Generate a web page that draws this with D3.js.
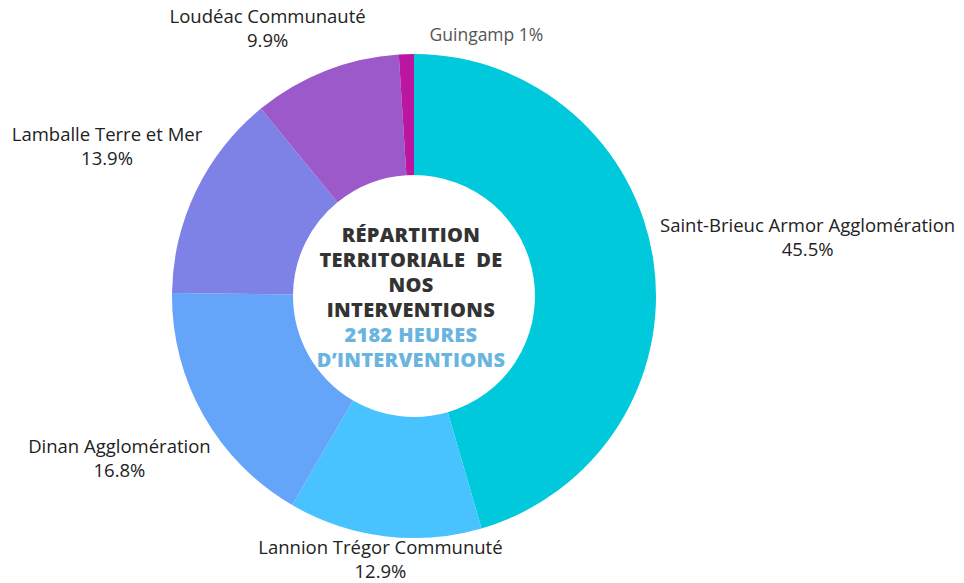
<!DOCTYPE html>
<html>
<head>
<meta charset="utf-8">
<script src="https://cdn.jsdelivr.net/npm/d3@7"></script>
<style>
  body { margin: 0; background: #fff; }
  svg { display: block; font-family: "Open Sans", "Noto Sans", sans-serif; }
</style>
</head>
<body>
<svg id="chart" width="964" height="583"></svg>
<script>
// data
const regions = ["Saint-Brieuc Armor Agglomération", "Lannion Trégor Communuté", "Dinan Agglomération",
    "Lamballe Terre et Mer", "Loudéac Communauté", "Guingamp"];
const shares = [45.5, 12.9, 16.8, 13.9, 9.9, 1];
const colors = ["#00c9dc", "#49c3ff", "#64a5fa", "#7e81e6", "#9b59c9", "#bc16a0"];
const titleLines = ["RÉPARTITION", "TERRITORIALE  DE", "NOS", "INTERVENTIONS"];
const subtitleLines = ["2182 HEURES", "D\u2019INTERVENTIONS"];

// label nudges from the outer arc centroid (layout only)
const labelNudge = [
    { dx: 154, dy: -27, lines: 2 },
    { dx: -4, dy: 21, lines: 2 },
    { dx: -84, dy: 41, lines: 2 },
    { dx: -89, dy: -47, lines: 2 },
    { dx: -58, dy: -45, lines: 2 },
    { dx: 80, dy: -19, lines: 1 }
];

const svg = d3.select("#chart");
const cx = 414, cy = 296, outerR = 242, innerR = 121;

const pie = d3.pie().sort(null).value(d => d.value);
const arc = d3.arc().innerRadius(innerR).outerRadius(outerR);
const outerArc = d3.arc().innerRadius(outerR).outerRadius(outerR);

const data = regions.map((name, i) => ({ name, value: shares[i], color: colors[i] }));
const arcs = pie(data);

const g = svg.append("g").attr("transform", `translate(${cx},${cy})`);

g.selectAll("path.slice")
    .data(arcs)
    .join("path")
    .attr("class", "slice")
    .attr("d", arc)
    .attr("fill", d => d.data.color);

// slice labels
const labels = g.selectAll("g.label")
    .data(arcs)
    .join("g")
    .attr("class", "label")
    .attr("transform", (d, i) => {
        const [x, y] = outerArc.centroid(d);
        return `translate(${x + labelNudge[i].dx},${y + labelNudge[i].dy})`;
    });

labels.each(function(d, i) {
    const sel = d3.select(this);
    if (labelNudge[i].lines === 1) {
        sel.append("text")
            .attr("text-anchor", "middle")
            .attr("dy", "0.35em")
            .attr("fill", "#555")
            .style("font-size", "17.5px")
            .text(`${d.data.name} ${d.data.value}%`);
    } else {
        sel.append("text")
            .attr("text-anchor", "middle")
            .attr("y", -3)
            .attr("fill", "#222")
            .style("font-size", "18.5px")
            .text(d.data.name);
        sel.append("text")
            .attr("text-anchor", "middle")
            .attr("y", 21)
            .attr("fill", "#222")
            .style("font-size", "18.5px")
            .text(`${d.data.value}%`);
    }
});

// center title
const center = g.append("g").attr("class", "center-title");
center.selectAll("text.title")
    .data(titleLines)
    .join("text")
    .attr("class", "title")
    .attr("text-anchor", "middle")
    .attr("x", -3)
    .attr("y", (d, i) => -54 + i * 25)
    .attr("fill", "#333")
    .style("font-size", "20px")
    .style("font-weight", 800)
    .style("letter-spacing", "0.3px")
    .style("white-space", "pre")
    .text(d => d);

center.selectAll("text.subtitle")
    .data(subtitleLines)
    .join("text")
    .attr("class", "subtitle")
    .attr("text-anchor", "middle")
    .attr("x", -3)
    .attr("y", (d, i) => 46 + i * 25)
    .attr("fill", "#6ab4e0")
    .style("font-size", "20px")
    .style("font-weight", 800)
    .style("letter-spacing", "0.3px")
    .text(d => d);
</script>
</body>
</html>
